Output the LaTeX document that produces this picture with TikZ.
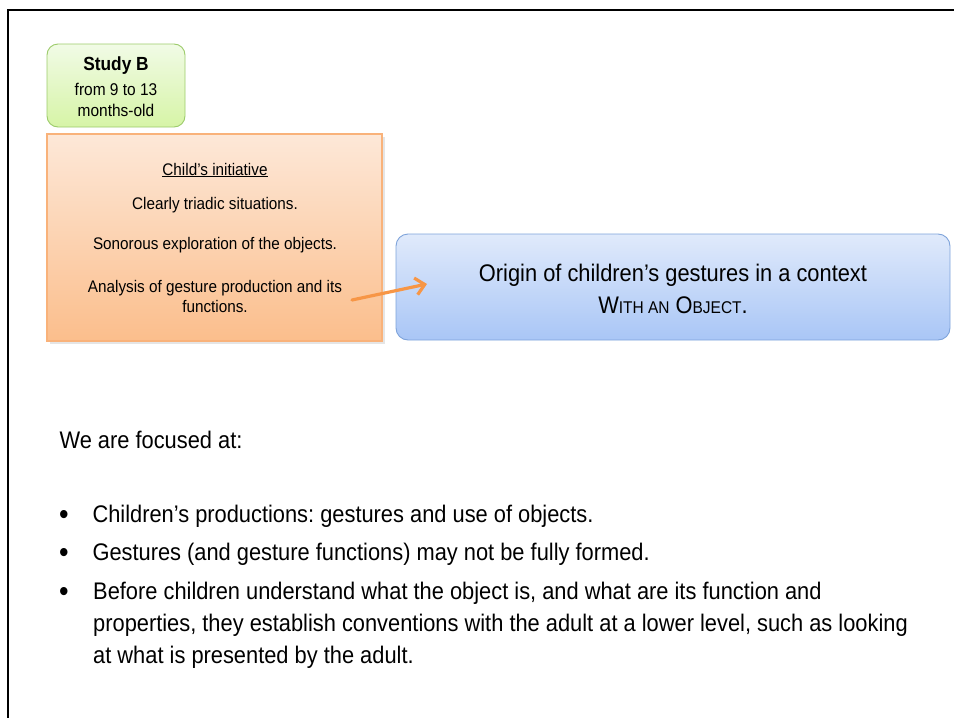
\documentclass[tikz,border=0pt]{standalone}
\usepackage{fontspec}
\setmainfont{Liberation Sans}[FakeStretch=0.91]
\frenchspacing
\usetikzlibrary{arrows.meta}
\definecolor{greenfillA}{HTML}{F1FBE6}
\definecolor{greenfillB}{HTML}{D6F4A6}
\definecolor{greenline}{HTML}{9CCB6A}
\definecolor{orangefillA}{HTML}{FDE8D8}
\definecolor{orangefillB}{HTML}{FBBE8C}
\definecolor{orangeline}{HTML}{F9B27A}
\definecolor{bluefillA}{HTML}{E0EAFB}
\definecolor{bluefillB}{HTML}{A9C6F6}
\definecolor{blueline}{HTML}{7EA3DA}
\definecolor{arrowc}{HTML}{F79646}
\newcommand{\fsmall}[1]{{\fontsize{17}{20}\selectfont #1}}
\tikzset{
  frameline/.style={line width=2.5pt, black},
  studybox/.style={draw=greenline, line width=0.9pt, rounded corners=11pt,
    top color=greenfillA, bottom color=greenfillB},
  initbox/.style={draw=orangeline, line width=1.6pt,
    top color=orangefillA, bottom color=orangefillB},
  originbox/.style={draw=blueline, line width=0.9pt, rounded corners=12pt,
    top color=bluefillA, bottom color=bluefillB},
  boxtext/.style={anchor=center, align=center, font=\fontsize{16.8}{20}\selectfont},
  bodytext/.style={anchor=west, font=\fontsize{24}{32}\selectfont},
  bulletmark/.style={anchor=center, font=\fontsize{30}{32}\selectfont},
  linkarrow/.style={draw=arrowc, line width=3.2pt, line cap=round,
    -{Straight Barb[length=9pt,width=17pt,line width=3.2pt]}},
}
\begin{document}
\begin{tikzpicture}[x=1pt,y=-1pt]
\useasboundingbox (0,0) rectangle (954,718);
% slide frame
\coordinate (ftl) at (8,10);
\coordinate (ftr) at (954,10);
\coordinate (fbl) at (8,718);
\draw[frameline] (ftr) -- (ftl) -- (fbl);

% study label
\draw[studybox] (47,44) rectangle (185,127);
\node[boxtext, font=\fontsize{19}{21}\selectfont\bfseries] (study) at (116,66) {Study B};
\node[boxtext, font=\fontsize{17}{20}\selectfont] (age1) at (116,89) {from 9 to 13};
\node[boxtext, font=\fontsize{17}{20}\selectfont] (age2) at (116,110) {months-old};

% child's initiative box
\fill[black!10] (50,137) rectangle (385,344);
\draw[initbox] (47,134) rectangle (382,341);
\node[boxtext] (init) at (215,170) {\underline{Child’s initiative}};
\node[boxtext] (tri) at (215,205) {Clearly triadic situations.};
\node[boxtext] (son) at (215,245) {Sonorous exploration of the objects.};
\node[boxtext] (ana) at (215,296) {Analysis of gesture production and its\\functions.};

% origin box
\draw[originbox] (396,234) rectangle (950,340);
\node[boxtext, font=\fontsize{24}{32}\selectfont] (origin) at (673,289)
  {Origin of children’s gestures in a context\\W\fsmall{ITH AN} O\fsmall{BJECT}.};

% link arrow
\coordinate (as) at (352,300);
\coordinate (ae) at (427,284);
\draw[linkarrow] (as) -- (ae);

% body text
\node[bodytext] (focus) at (56,440) {We are focused at:};
\node[bulletmark] (b1) at (64,517) {•};
\node[bodytext] (t1) at (89,516) {Children’s productions: gestures and use of objects.};
\node[bulletmark] (b2) at (64,555) {•};
\node[bodytext] (t2) at (89,554) {Gestures (and gesture functions) may not be fully formed.};
\node[bulletmark] (b3) at (64,594) {•};
\node[bodytext, anchor=north west, align=left, inner sep=0pt] (t3) at (93,582)
  {Before children understand what the object is, and what are its function and\\
   properties, they establish conventions with the adult at a lower level, such as looking\\
   at what is presented by the adult.};
\end{tikzpicture}
\end{document}
